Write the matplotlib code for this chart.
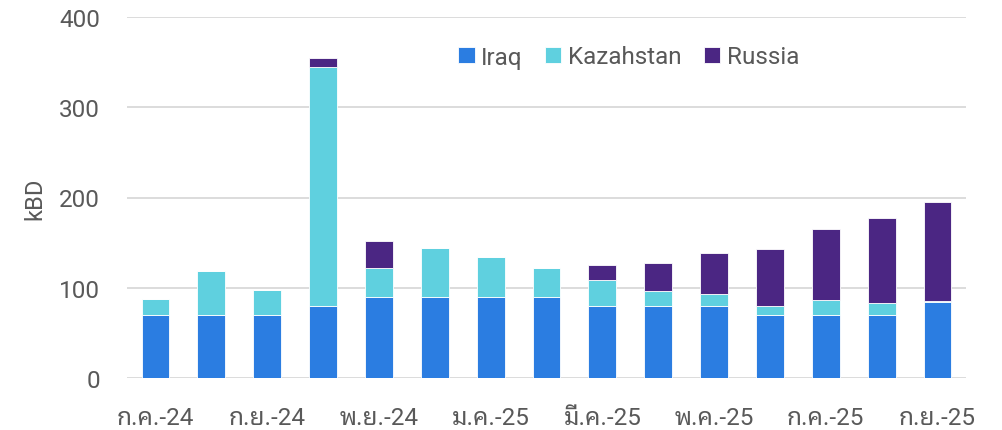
import matplotlib
matplotlib.use("Agg")
import matplotlib.pyplot as plt
from matplotlib import font_manager
from matplotlib.ft2font import FT2Font
import numpy as np

months = ["ก.ค.-24", "ส.ค.-24", "ก.ย.-24", "ต.ค.-24", "พ.ย.-24", "ธ.ค.-24", "ม.ค.-25",
          "ก.พ.-25", "มี.ค.-25", "เม.ย.-25", "พ.ค.-25", "มิ.ย.-25", "ก.ค.-25", "ส.ค.-25", "ก.ย.-25"]
iraq = [70, 70, 70, 80, 90, 90, 90, 90, 80, 80, 80, 70, 70, 70, 84]
kazakhstan = [18, 49, 28, 265, 32, 54, 44, 32, 29, 16, 13, 10, 16, 13, 1]
russia = [0, 0, 0, 10, 30, 0, 0, 0, 16, 31, 46, 63, 79, 94, 110]
yticks = [0, 100, 200, 300, 400]

# find a font with Thai glyphs
thai_font = None
for f in font_manager.fontManager.ttflist:
    try:
        ft = FT2Font(f.fname)
        if 0x0E01 in ft.get_charmap():
            thai_font = f.name
            if "Noto" in f.name:
                break
    except Exception:
        pass
fams = ["Roboto"]
if thai_font:
    fams.append(thai_font)
fams.append("DejaVu Sans")
plt.rcParams["font.family"] = fams

grey = "#595959"
c_iraq = "#2B7DE1"
c_kaz = "#5FD0DF"
c_rus = "#4B2683"
fs = 17.5

fig = plt.figure(figsize=(10.02, 4.31), dpi=100)
ax = fig.add_axes([127/1002, 1-379/431, (966-127)/1002, (379-18)/431])

x = np.arange(len(months))
iraq_a = np.array(iraq); kaz_a = np.array(kazakhstan); rus_a = np.array(russia)
w = 0.5
ax.bar(x, iraq_a, w, color=c_iraq, edgecolor="white", linewidth=0.6, label="Iraq", zorder=3)
ax.bar(x, kaz_a, w, bottom=iraq_a, color=c_kaz, edgecolor="white", linewidth=0.6, label="Kazahstan", zorder=3)
ax.bar(x, rus_a, w, bottom=iraq_a + kaz_a, color=c_rus, edgecolor="white", linewidth=0.6, label="Russia", zorder=3)

ax.set_xlim(-0.51, len(months) - 0.49)
ax.set_ylim(0, 400)
ax.set_yticks(yticks)
ax.set_yticklabels([str(v) for v in yticks])
ax.yaxis.grid(True, color="#D9D9D9", linewidth=1.3, zorder=0)
ax.set_axisbelow(True)
for s in ax.spines.values():
    s.set_visible(False)
ax.tick_params(axis="both", length=0, labelsize=fs, colors=grey)
ax.tick_params(axis="y", pad=19.5)
ax.tick_params(axis="x", pad=20)
ax.set_xticks(x[::2])
ax.set_xticklabels(months[::2])
ax.set_ylabel("kBD", fontsize=17, color=grey, labelpad=9)

leg = ax.legend(loc="center left", bbox_to_anchor=(458/1002, 1-58/431), bbox_transform=fig.transFigure,
                ncol=3, frameon=False, fontsize=fs, handlelength=0.68, handleheight=0.68,
                handletextpad=0.28, columnspacing=0.9, borderpad=0, borderaxespad=0)
for t in leg.get_texts():
    t.set_color(grey)

fig.savefig("out.png", dpi=100)
